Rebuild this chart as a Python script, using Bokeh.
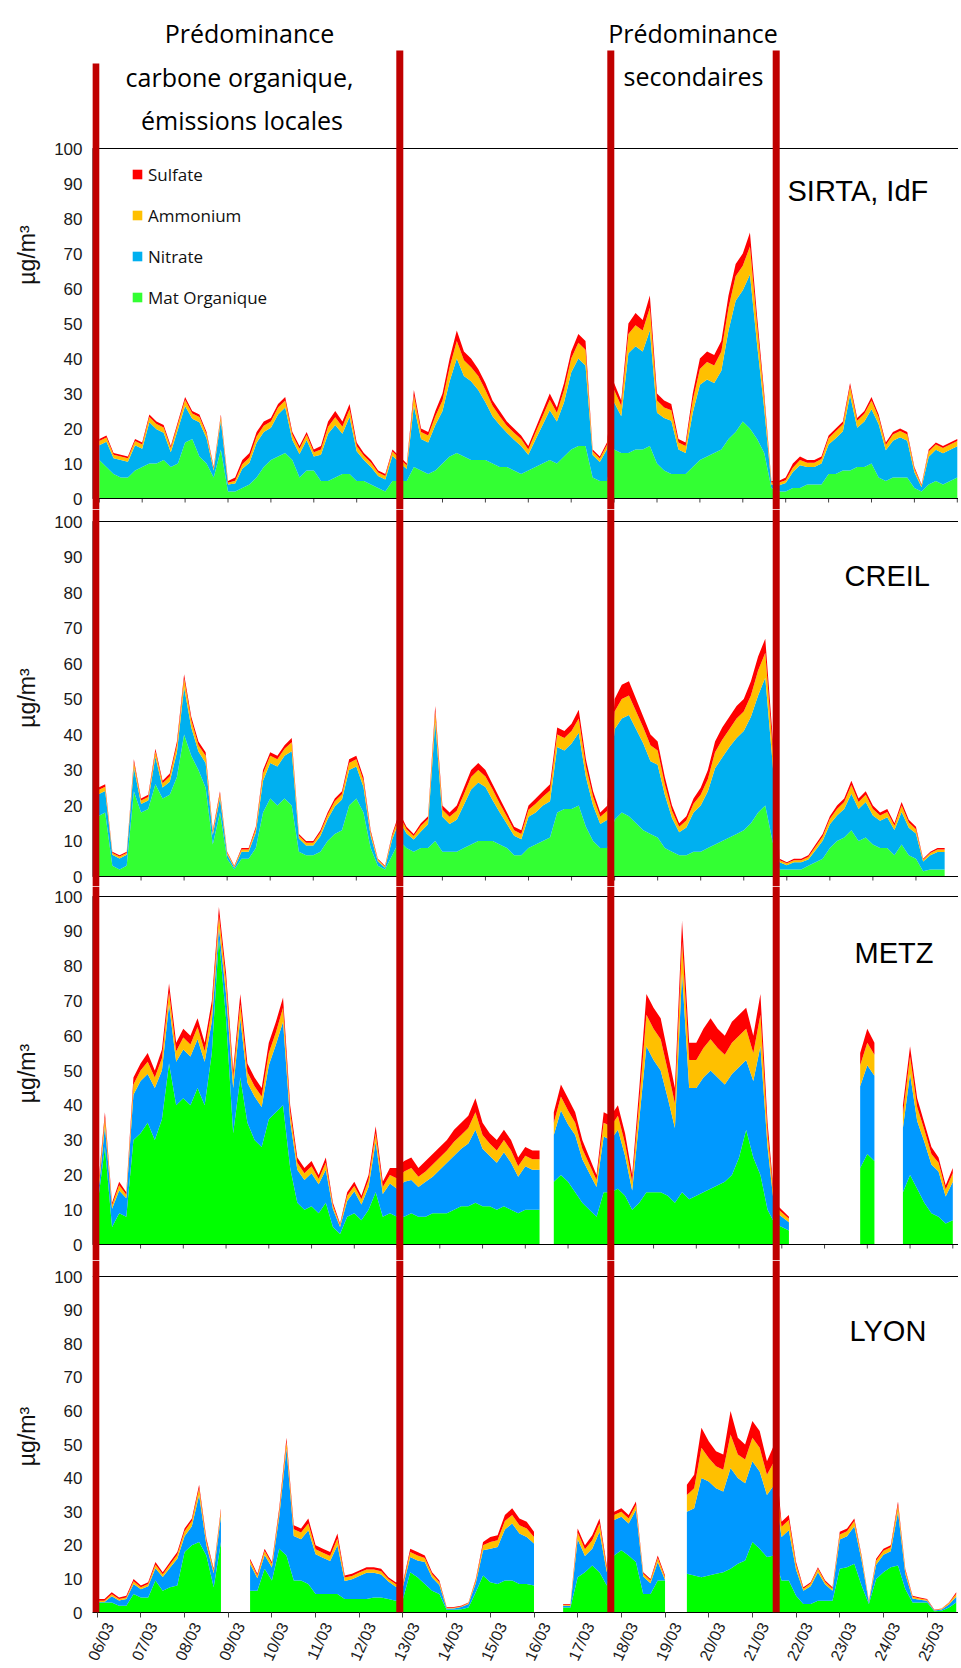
import math
import numpy as np
import pandas as pd
from bokeh.plotting import figure
from bokeh.layouts import column
from bokeh.models import (Range1d, BoxAnnotation, Span, Label, Legend, LegendItem,
                          FixedTicker, DatetimeTickFormatter, ColumnDataSource)
from bokeh.embed import file_html
from bokeh.resources import INLINE

nan = float("nan")

# ---------------------------------------------------------------------------
# DATA  (µg/m3, one value every 4 hours starting 06/03/2014 00:00)
# ---------------------------------------------------------------------------
species = ["Mat Organique", "Nitrate", "Ammonium", "Sulfate"]
legend_order = ["Sulfate", "Ammonium", "Nitrate", "Mat Organique"]

sirta_org = [
    11, 9, 7, 6, 6, 8,
    9, 10, 10, 11, 9, 10,
    16, 17, 12, 10, 6, 14,
    2, 2, 3, 4, 6, 9,
    11, 12, 13, 11, 6, 8,
    8, 5, 5, 6, 7, 7,
    5, 5, 4, 3, 2, 5,
    5, 5, 9, 8, 7, 8,
    10, 12, 13, 12, 11, 11,
    11, 10, 9, 9, 8, 7,
    8, 9, 10, 11, 10, 12,
    14, 15, 15, 6, 5, 5,
    14, 13, 13, 14, 14, 15,
    10, 8, 7, 7, 7, 9,
    11, 12, 13, 14, 17, 19,
    22, 20, 17, 13, 3, 2,
    2, 3, 3, 4, 4, 4,
    7, 7, 8, 8, 9, 9,
    10, 6, 5, 6, 6, 6,
    3, 2, 4, 5, 4, 5,
    6]
sirta_nit = [
    4.2, 7.2, 4.5, 5.0, 4.5, 7.2,
    5.2, 11.8, 9.8, 7.8, 4.2, 9.8,
    10.4, 5.8, 9.8, 7.2, 2.0, 8.2,
    2.0, 2.3, 5.5, 6.2, 9.9, 10.0,
    9.2, 12.0, 13.0, 5.7, 6.7, 8.7,
    4.0, 7.5, 13.5, 15.0, 11.5, 16.3,
    8.5, 6.0, 5.0, 3.4, 3.4, 7.2,
    5.2, 3.4, 17.5, 9.0, 9.0, 13.0,
    15.0, 21.5, 27.0, 23.0, 22.5, 20.0,
    16.5, 13.5, 12.0, 9.8, 8.8, 8.0,
    4.5, 7.8, 11.0, 14.2, 12.0, 15.5,
    22.0, 25.0, 23.0, 6.4, 5.4, 9.1,
    13.5, 10.5, 28.5, 29.5, 28.0, 33.0,
    14.5, 15.0, 15.2, 7.0, 6.0, 15.5,
    21.5, 22.0, 20.0, 22.5, 31.0, 37.5,
    37.5, 44.0, 27.0, 12.5, 1.0, 1.7,
    2.4, 4.6, 6.5, 5.0, 5.0, 6.0,
    8.4, 10.2, 11.2, 21.5, 11.2, 13.0,
    15.5, 15.2, 8.8, 10.5, 11.5, 10.5,
    4.5, 1.2, 7.9, 8.9, 8.9, 8.9,
    8.9]
sirta_amm = [
    1.2, 1.2, 1.0, 1.0, 1.0, 1.2,
    1.2, 1.5, 1.5, 1.5, 1.2, 1.5,
    1.8, 1.5, 1.5, 1.2, 0.6, 1.2,
    0.5, 0.8, 1.3, 1.5, 1.8, 1.8,
    1.8, 2.0, 2.0, 1.5, 1.5, 1.5,
    1.2, 1.5, 2.0, 2.2, 2.0, 2.2,
    1.5, 1.2, 1.2, 1.0, 1.0, 1.2,
    1.2, 1.0, 3.0, 2.0, 2.0, 2.5,
    3.0, 4.0, 5.0, 4.5, 4.0, 4.0,
    3.5, 3.0, 2.5, 2.0, 2.0, 2.0,
    1.5, 2.0, 2.5, 3.0, 2.5, 3.5,
    4.0, 4.5, 4.5, 1.0, 1.0, 1.2,
    3.5, 3.0, 5.5, 6.0, 6.0, 6.5,
    3.5, 3.0, 3.0, 2.0, 2.0, 3.5,
    4.5, 5.0, 5.0, 5.5, 6.5, 7.0,
    7.0, 8.0, 5.5, 3.0, 0.6, 0.8,
    0.8, 1.2, 1.5, 1.2, 1.2, 1.3,
    1.8, 2.0, 2.0, 2.5, 2.0, 2.2,
    2.5, 2.0, 1.5, 1.8, 1.8, 1.8,
    1.0, 0.5, 1.5, 1.5, 1.5, 1.5,
    1.5]
sirta_sul = [
    0.6, 0.6, 0.5, 0.5, 0.5, 0.6,
    0.6, 0.7, 0.7, 0.7, 0.6, 0.7,
    0.8, 0.7, 0.7, 0.6, 0.4, 0.6,
    0.5, 0.9, 1.2, 1.3, 1.3, 1.2,
    1.0, 1.0, 1.0, 0.8, 0.8, 0.8,
    0.8, 1.0, 1.5, 1.8, 1.5, 1.5,
    1.0, 0.8, 0.8, 0.6, 0.6, 0.6,
    0.6, 0.6, 1.5, 1.0, 1.0, 1.5,
    2.0, 2.5, 3.0, 2.5, 2.5, 2.0,
    2.0, 1.5, 1.5, 1.2, 1.2, 1.0,
    1.0, 1.2, 1.5, 1.8, 1.5, 2.0,
    2.0, 2.5, 2.5, 0.6, 0.6, 0.7,
    2.0, 1.5, 3.0, 3.5, 3.0, 3.5,
    2.0, 2.0, 1.8, 1.0, 1.0, 2.0,
    3.0, 3.0, 3.0, 3.0, 3.5, 3.5,
    3.5, 4.0, 2.5, 1.5, 0.4, 0.5,
    0.8, 1.2, 1.0, 0.8, 0.8, 0.7,
    0.8, 0.8, 0.8, 1.0, 0.8, 0.8,
    1.0, 0.8, 0.7, 0.7, 0.7, 0.7,
    0.5, 0.3, 0.6, 0.6, 0.6, 0.6,
    0.6]

creil_org = [
    17, 18, 3, 2, 3, 24,
    18, 19, 26, 22, 23, 28,
    40, 34, 30, 25, 9, 18,
    5, 2, 5, 5, 8, 18,
    22, 20, 22, 20, 7, 6,
    6, 7, 10, 12, 13, 20,
    22, 18, 8, 3, 2, 6,
    10, 8, 7, 8, 8, 10,
    7, 7, 7, 8, 9, 10,
    10, 10, 9, 8, 6, 6,
    8, 9, 10, 11, 18, 19,
    19, 20, 14, 10, 8, 8,
    16, 18, 17, 15, 13, 12,
    11, 8, 7, 6, 6, 7,
    7, 8, 9, 10, 11, 12,
    13, 15, 18, 20, 10, 2,
    2, 2, 2, 3, 4, 5,
    8, 10, 11, 13, 10, 11,
    9, 8, 8, 6, 9, 6,
    5, 1.5, 2, 2, 2]
creil_nit = [
    6.1, 6.1, 3.1, 3.1, 3.1, 6.7,
    2.4, 2.4, 7.7, 3.1, 3.7, 7.0,
    13.3, 8.0, 5.2, 7.0, 2.7, 4.1,
    1.2, 0.5, 2.0, 2.0, 4.4, 9.0,
    10.0, 11.0, 12.0, 15.3, 3.7, 2.7,
    2.7, 4.4, 6.1, 7.7, 8.7, 10.0,
    9.0, 7.2, 3.4, 1.3, 0.5, 4.4,
    5.7, 4.1, 3.4, 4.7, 6.7, 33.5,
    9.8, 7.8, 9.0, 12.2, 15.5, 16.5,
    15.2, 11.5, 9.0, 6.8, 5.5, 4.5,
    8.8, 9.0, 10.0, 10.2, 18.5, 16.5,
    18.5, 20.5, 14.0, 10.0, 6.8, 8.0,
    25.5, 26.5, 28.5, 26.5, 24.5, 20.5,
    20.5, 15.0, 9.5, 6.5, 7.8, 11.0,
    13.0, 16.0, 21.5, 23.5, 25.5, 27.0,
    28.0, 30.0, 33.0, 36.0, 22.5, 2.0,
    1.2, 2.0, 2.0, 1.8, 3.4, 5.1,
    6.7, 7.2, 8.0, 10.3, 9.0, 10.0,
    8.2, 7.7, 8.7, 7.1, 9.2, 7.7,
    7.1, 2.7, 4.0, 4.9, 4.9]
creil_amm = [
    1.2, 1.2, 0.5, 0.5, 0.5, 1.5,
    1.0, 1.0, 1.5, 1.2, 1.5, 2.0,
    2.5, 2.0, 1.8, 2.0, 0.8, 1.2,
    0.5, 0.3, 0.6, 0.6, 1.0, 2.0,
    2.0, 2.0, 2.0, 2.5, 0.8, 0.8,
    0.8, 1.0, 1.2, 1.5, 1.5, 2.0,
    2.0, 1.8, 1.0, 0.4, 0.3, 1.0,
    1.5, 1.2, 1.0, 1.5, 1.5, 3.0,
    2.0, 2.0, 2.5, 3.0, 3.5, 3.5,
    3.0, 3.0, 2.5, 2.0, 1.5, 1.5,
    2.0, 2.5, 2.5, 3.0, 3.5, 3.5,
    3.5, 4.0, 3.0, 2.5, 2.0, 2.5,
    5.0, 5.5, 5.5, 5.0, 4.5, 4.5,
    4.0, 3.0, 2.0, 1.5, 2.0, 2.5,
    3.0, 3.5, 4.5, 5.0, 5.0, 5.5,
    5.5, 6.0, 7.0, 7.0, 4.5, 0.6,
    0.5, 0.6, 0.6, 0.7, 1.0, 1.2,
    1.5, 1.8, 2.0, 2.5, 2.0, 2.0,
    1.8, 1.5, 1.5, 1.2, 1.8, 1.5,
    1.2, 0.5, 0.6, 0.7, 0.7]
creil_sul = [
    0.7, 0.7, 0.4, 0.4, 0.4, 0.8,
    0.6, 0.6, 0.8, 0.7, 0.8, 1.0,
    1.2, 1.0, 1.0, 1.0, 0.5, 0.7,
    0.3, 0.2, 0.4, 0.4, 0.6, 1.0,
    1.0, 1.0, 1.0, 1.2, 0.5, 0.5,
    0.5, 0.6, 0.7, 0.8, 0.8, 1.0,
    1.0, 1.0, 0.6, 0.3, 0.2, 0.6,
    0.8, 0.7, 0.6, 0.8, 0.8, 1.5,
    1.2, 1.2, 1.5, 1.8, 2.0, 2.0,
    1.8, 1.5, 1.5, 1.2, 1.0, 1.0,
    1.2, 1.5, 1.5, 1.8, 2.0, 2.0,
    2.0, 2.5, 2.0, 1.5, 1.2, 1.5,
    3.5, 4.0, 4.0, 3.5, 3.0, 3.0,
    2.5, 2.0, 1.5, 1.0, 1.2, 1.5,
    2.0, 2.5, 3.0, 3.5, 3.5, 3.5,
    3.5, 4.0, 4.0, 4.0, 3.0, 0.4,
    0.3, 0.4, 0.4, 0.5, 0.6, 0.7,
    0.8, 1.0, 1.0, 1.2, 1.0, 1.0,
    1.0, 0.8, 0.8, 0.7, 1.0, 0.8,
    0.7, 0.3, 0.4, 0.4, 0.4]

metz_org = [
    12, 28, 5, 9, 8, 30,
    32, 35, 30, 36, 52, 40,
    42, 40, 45, 40, 55, 88,
    65, 32, 48, 35, 30, 28,
    36, 38, 40, 22, 12, 10,
    11, 9, 12, 5, 3, 8,
    9, 7, 10, 15, 8, 9,
    8, 8, 9, 8, 8, 9,
    9, 9, 10, 11, 11, 12,
    11, 11, 10, 11, 10, 9,
    10, 10, 10, nan, 18, 20,
    18, 15, 12, 10, 8, 15,
    15, 16, 14, 10, 12, 15,
    15, 15, 14, 12, 15, 13,
    14, 15, 16, 17, 18, 20,
    25, 33, 25, 20, 10, 6,
    5, 4, nan, nan, nan, nan,
    nan, nan, nan, nan, nan, 22,
    26, 24, nan, nan, nan, 15,
    20, 16, 12, 9, 8, 6,
    7]
metz_nit = [
    1.5, 6.0, 5.3, 6.5, 5.3, 13.0,
    15.0, 14.0, 15.0, 14.0, 17.0, 12.5,
    14.0, 14.0, 14.0, 12.5, 9.0, 3.0,
    7.0, 13.0, 17.0, 11.5, 12.5, 11.5,
    15.5, 19.5, 24.0, 13.5, 9.5, 8.5,
    9.5, 8.3, 9.5, 5.2, 2.0, 4.5,
    6.3, 4.5, 6.5, 14.5, 6.5, 8.5,
    8.0, 10.0, 9.5, 8.5, 10.0, 10.5,
    12.5, 14.5, 15.5, 16.5, 18.0, 21.0,
    16.5, 14.5, 13.5, 15.5, 13.5, 10.5,
    12.5, 11.5, 11.5, nan, 13.5, 18.5,
    16.5, 16.5, 12.5, 10.5, 8.5, 16.0,
    15.0, 17.0, 11.5, 5.5, 24.0, 42.0,
    38.0, 35.0, 28.0, 21.5, 63.0, 32.0,
    31.0, 33.0, 34.0, 31.0, 28.0, 29.0,
    26.0, 20.0, 22.0, 37.0, 18.0, 3.5,
    3.0, 2.4, nan, nan, nan, nan,
    nan, nan, nan, nan, nan, 23.5,
    25.5, 24.5, nan, nan, nan, 18.5,
    29.0, 19.5, 17.5, 14.0, 13.0, 7.8,
    11.0]
metz_amm = [
    1.5, 2.5, 1.0, 1.5, 1.0, 3.0,
    3.0, 3.5, 3.0, 3.5, 3.5, 3.0,
    3.5, 3.5, 3.5, 3.0, 3.5, 3.5,
    3.5, 3.0, 4.0, 3.0, 3.0, 3.0,
    3.5, 3.5, 4.0, 2.5, 2.0, 2.0,
    2.0, 1.5, 2.0, 1.0, 0.6, 1.5,
    1.5, 1.5, 2.0, 2.5, 2.0, 2.5,
    3.0, 3.0, 3.5, 3.0, 3.0, 3.5,
    3.5, 3.5, 4.0, 4.0, 4.5, 5.0,
    4.0, 3.5, 3.5, 3.5, 3.5, 3.0,
    3.0, 3.0, 3.0, nan, 3.5, 4.0,
    4.0, 3.5, 3.0, 2.5, 2.0, 4.0,
    4.0, 4.0, 3.5, 2.5, 5.0, 9.0,
    9.0, 9.0, 8.0, 7.0, 9.0, 8.0,
    8.0, 8.5, 9.0, 8.5, 8.5, 9.0,
    9.0, 9.0, 8.0, 9.0, 4.0, 1.5,
    1.2, 1.0, nan, nan, nan, nan,
    nan, nan, nan, nan, nan, 6.0,
    6.5, 6.0, nan, nan, nan, 4.0,
    5.0, 4.0, 3.5, 3.0, 2.5, 2.0,
    2.5]
metz_sul = [
    1.0, 1.5, 0.7, 1.0, 0.7, 2.0,
    2.0, 2.5, 2.0, 2.5, 2.5, 2.5,
    2.5, 2.5, 2.5, 2.5, 2.5, 2.5,
    2.5, 2.0, 3.0, 2.5, 2.5, 2.5,
    3.0, 3.0, 3.0, 2.0, 1.5, 1.5,
    1.5, 1.2, 1.5, 0.8, 0.4, 1.0,
    1.2, 1.0, 1.5, 2.0, 1.5, 2.0,
    3.0, 3.0, 3.0, 2.5, 3.0, 3.0,
    3.0, 3.0, 3.5, 3.5, 3.5, 4.0,
    3.5, 3.0, 3.0, 3.0, 3.0, 2.5,
    2.5, 2.5, 2.5, nan, 3.0, 3.5,
    3.5, 3.0, 2.5, 2.0, 1.5, 3.0,
    3.0, 3.0, 3.0, 2.0, 4.0, 6.0,
    6.0, 6.0, 5.0, 4.5, 6.0, 5.0,
    5.0, 5.5, 6.0, 5.5, 5.5, 6.0,
    6.0, 6.0, 5.0, 6.0, 3.0, 1.0,
    0.8, 0.6, nan, nan, nan, nan,
    nan, nan, nan, nan, nan, 3.5,
    4.0, 3.5, nan, nan, nan, 2.5,
    3.0, 2.5, 2.0, 2.0, 1.5, 1.2,
    1.5]

lyon_org = [
    3, 3, 3, 2, 2, 5.5,
    4.5, 4.5, 9.5, 6.5, 7.5, 8,
    18, 20, 21, 17, 7.5, 21,
    nan, nan, nan, 6.5, 6.5, 13,
    9.5, 19, 17, 9.5, 9.5, 8.5,
    5.5, 5.5, 5.5, 5.5, 4, 4,
    4, 4, 4.5, 4.5, 4, 3.5,
    4, 12, 10.5, 8.5, 6.5, 5.5,
    0.8, 0.8, 1, 1.5, 6, 11,
    9, 8.5, 9.5, 9.5, 8.5, 8.5,
    8, nan, nan, nan, 1.5, 1.5,
    10.5, 12, 14, 12, 8, 17,
    18.5, 17, 15, 5.5, 5.5, 9.5,
    9.5, nan, nan, 11.5, 11, 10.5,
    11, 11.5, 12, 13, 14.5, 15.5,
    21, 19, 16.5, 17, 9.5, 9.5,
    5, 2.5, 2.5, 3.5, 3.5, 3.5,
    13, 13.5, 14.5, 8, 2.5, 10,
    12, 13.5, 14, 7, 3, 3,
    3, 0.4, 0.5, 1.5, 3]
lyon_nit = [
    0.1, 0.1, 1.8, 1.6, 2.0, 3.0,
    2.4, 3.3, 3.7, 4.1, 5.8, 8.0,
    4.7, 5.7, 14.0, 3.0, 4.2, 7.7,
    nan, nan, nan, 7.9, 3.7, 4.1,
    3.9, 9.5, 31.8, 13.3, 12.3, 16.0,
    11.8, 10.8, 9.8, 14.5, 5.4, 5.9,
    6.9, 7.8, 7.3, 6.8, 5.2, 4.2,
    3.7, 4.5, 5.0, 6.5, 3.9, 2.7,
    0.4, 0.4, 0.6, 1.0, 2.7, 7.5,
    10.0, 11.0, 15.2, 17.0, 15.0, 14.0,
    12.5, nan, nan, nan, 0.5, 0.5,
    11.3, 4.8, 5.0, 12.0, 4.0, 10.5,
    10.0, 9.5, 15.5, 5.2, 3.2, 5.5,
    0.2, nan, nan, 18.5, 20.0, 29.5,
    28.0, 25.5, 24.0, 30.0, 25.5, 23.0,
    24.0, 23.0, 18.5, 21.0, 13.0, 15.0,
    7.7, 4.0, 5.3, 8.5, 4.8, 3.0,
    8.7, 9.2, 11.2, 7.5, 0.5, 4.2,
    5.2, 4.7, 16.0, 4.5, 1.2, 0.8,
    0.5, 0.2, 0.4, 0.9, 1.7]
lyon_amm = [
    0.4, 0.4, 0.6, 0.4, 0.5, 0.8,
    0.6, 0.7, 1.0, 0.8, 1.0, 1.2,
    1.5, 1.5, 2.0, 1.2, 0.8, 1.5,
    nan, nan, nan, 1.0, 0.8, 1.2,
    1.0, 1.5, 2.0, 2.0, 2.0, 2.0,
    1.5, 1.5, 1.5, 2.0, 1.0, 1.0,
    1.0, 1.0, 1.0, 1.0, 0.8, 0.8,
    0.8, 1.5, 1.5, 1.2, 1.0, 0.8,
    0.2, 0.2, 0.2, 0.3, 0.8, 1.5,
    2.0, 2.0, 2.5, 2.5, 2.5, 2.5,
    2.0, nan, nan, nan, 0.3, 0.3,
    2.0, 2.0, 2.5, 2.5, 1.2, 1.5,
    1.5, 1.5, 1.5, 0.8, 0.8, 1.2,
    0.8, nan, nan, 5.0, 6.0, 9.0,
    7.0, 6.5, 6.5, 10.0, 7.0, 7.0,
    7.0, 7.0, 6.0, 7.0, 3.0, 3.0,
    1.5, 0.6, 0.8, 1.0, 0.8, 0.6,
    1.5, 1.5, 1.5, 1.0, 0.3, 1.2,
    1.2, 1.2, 2.0, 1.0, 0.5, 0.4,
    0.3, 0.1, 0.2, 0.4, 0.8]
lyon_sul = [
    0.5, 0.5, 0.6, 0.5, 0.5, 0.7,
    0.5, 0.5, 0.8, 0.6, 0.7, 0.8,
    0.8, 0.8, 1.0, 0.8, 0.5, 0.8,
    nan, nan, nan, 0.6, 0.5, 0.7,
    0.6, 1.0, 1.2, 1.2, 1.2, 1.5,
    1.2, 1.2, 1.2, 1.5, 0.6, 0.6,
    0.6, 0.7, 0.7, 0.7, 0.5, 0.5,
    0.5, 1.0, 1.0, 0.8, 0.6, 0.5,
    0.2, 0.2, 0.2, 0.2, 0.5, 1.0,
    1.5, 1.5, 1.8, 2.0, 2.0, 2.0,
    1.5, nan, nan, nan, 0.2, 0.2,
    1.2, 1.2, 1.5, 1.5, 0.8, 1.0,
    1.0, 1.0, 1.0, 0.5, 0.5, 0.8,
    0.5, nan, nan, 3.0, 4.0, 6.0,
    5.0, 4.5, 4.5, 7.0, 5.0, 4.5,
    5.0, 5.0, 4.0, 5.0, 1.5, 1.5,
    0.8, 0.4, 0.4, 0.5, 0.4, 0.4,
    0.8, 0.8, 0.8, 0.5, 0.2, 0.6,
    0.6, 0.6, 1.0, 0.5, 0.3, 0.3,
    0.2, 0.1, 0.1, 0.2, 0.5]

phase_titles_left = ["Prédominance", "carbone organique,", "émissions locales"]
phase_titles_right = ["Prédominance", "secondaires"]

# ---------------------------------------------------------------------------
# LAYOUT / STYLE  (page pixel positions)
# ---------------------------------------------------------------------------
T0 = pd.Timestamp("2014-03-06 00:00")
STEP_H = 4
MS_DAY = 86400000.0
T0_MS = T0.value / 1e6

PAGE = 0
FRAME_L, FRAME_R = 92, 958
RED_X = [95.3, 399.3, 610.3, 775.7]
RED_TOP = [63, 50, 50, 50]
RED_W = 7
RED = "#C00000"
NUM_FONT = "Liberation Sans"
TXT_FONT = "Open Sans"

COL_A = ["#33FF33", "#00B0F0", "#FFC000", "#FF0000"]
COL_B = ["#00FF00", "#0099FF", "#FFC000", "#FF0000"]

panels = [
    dict(name="SIRTA, IdF", data=(sirta_org, sirta_nit, sirta_amm, sirta_sul), colors=COL_A,
         frame=(0, 509), top100=148, zero=498, day0=98.8, ppd=42.9, lab=(787, 190)),
    dict(name="CREIL", data=(creil_org, creil_nit, creil_amm, creil_sul), colors=COL_A,
         frame=(509, 886), top100=521, zero=876, day0=97.5, ppd=43.05, lab=(844, 575)),
    dict(name="METZ", data=(metz_org, metz_nit, metz_amm, metz_sul), colors=COL_B,
         frame=(886, 1260), top100=896, zero=1244, day0=97.3, ppd=42.75, lab=(854, 952)),
    dict(name="LYON", data=(lyon_org, lyon_nit, lyon_amm, lyon_sul), colors=COL_B,
         frame=(1260, 1612), top100=1276, zero=1612, day0=96.7, ppd=43.68, lab=(849, 1330)),
]


def blocks(arrs):
    ok = np.all(~np.isnan(np.vstack(arrs)), axis=0)
    runs, start = [], None
    for i, v in enumerate(ok):
        if v and start is None:
            start = i
        if not v and start is not None:
            runs.append((start, i))
            start = None
    if start is not None:
        runs.append((start, len(ok)))
    return runs


figs = []
for k, cfg in enumerate(panels):
    last = k == len(panels) - 1
    ft, fb = cfg["frame"]
    scale = (cfg["zero"] - cfg["top100"]) / 100.0
    ystart = -(fb - cfg["zero"]) / scale
    yend = 100 + (cfg["top100"] - ft) / scale
    ms_px = MS_DAY / cfg["ppd"]
    xstart = T0_MS + (FRAME_L - cfg["day0"]) * ms_px
    xend = T0_MS + (FRAME_R - cfg["day0"]) * ms_px

    def px_x(px, xstart=xstart, ms_px=ms_px):
        return xstart + (px - FRAME_L) * ms_px

    def px_y(py, cfg=cfg, scale=scale):
        return (cfg["zero"] - py) / scale

    p = figure(frame_width=FRAME_R - FRAME_L, frame_height=fb - ft,
               x_range=Range1d(xstart, xend), y_range=Range1d(ystart, yend),
               x_axis_type="datetime", x_axis_location="below" if last else None,
               toolbar_location=None, output_backend="svg",
               min_border_left=FRAME_L - PAGE, min_border_right=0,
               min_border_top=0, min_border_bottom=0)
    p.grid.visible = False
    p.outline_line_color = None
    p.background_fill_color = "white"
    p.border_fill_color = "white"

    arrs = [np.array(a, dtype=float) for a in cfg["data"]]
    n = len(arrs[0])
    t = [T0 + pd.Timedelta(hours=STEP_H * i) for i in range(n)]
    first_rs = None
    for (i0, i1) in blocks(arrs):
        src = ColumnDataSource(dict(x=t[i0:i1], g=arrs[0][i0:i1], n=arrs[1][i0:i1],
                                    a=arrs[2][i0:i1], s=arrs[3][i0:i1]))
        rs = p.varea_stack(stackers=["g", "n", "a", "s"], x="x", color=cfg["colors"], source=src)
        if first_rs is None:
            first_rs = rs

    yax = p.yaxis[0]
    yax.ticker = FixedTicker(ticks=list(range(0, 101, 10)))
    yax.bounds = (0, 100)
    yax.major_tick_out = 0
    yax.major_tick_in = 0
    yax.minor_tick_out = 0
    yax.minor_tick_in = 0
    yax.axis_line_color = None
    yax.major_label_text_font = NUM_FONT
    yax.major_label_text_font_size = "17px"
    yax.major_label_text_color = "#1a1a1a"
    yax.major_label_standoff = 10
    yax.axis_label = "µg/m³"
    yax.axis_label_text_font = NUM_FONT
    yax.axis_label_text_font_size = "23px"
    yax.axis_label_text_font_style = "normal"
    yax.axis_label_text_color = "#111111"
    yax.axis_label_standoff = 11

    day_ms = [T0_MS + d * MS_DAY for d in range(21)]
    if not last:
        p.add_layout(BoxAnnotation(bottom=0, top=100, fill_alpha=0, line_color="black",
                                   line_width=1, line_alpha=1))
        tl = 4.0 / scale
        p.segment(x0=day_ms, y0=[0] * len(day_ms), x1=day_ms, y1=[-tl] * len(day_ms),
                  line_color="#444444", line_width=1)
    else:
        p.add_layout(Span(location=100, dimension="width", line_color="black", line_width=1))
        xax = p.xaxis[0]
        lab_shift = 0.28
        xax.ticker = FixedTicker(ticks=[m + lab_shift * MS_DAY for m in day_ms[:20]],
                                 minor_ticks=day_ms[:20])
        fmt = "%d/%m"
        xax.formatter = DatetimeTickFormatter(microseconds=fmt, milliseconds=fmt, seconds=fmt,
                                              minsec=fmt, minutes=fmt, hourmin=fmt, hours=fmt,
                                              days=fmt, months=fmt, years=fmt)
        xax.major_label_orientation = math.radians(65)
        xax.major_tick_out = 0
        xax.major_tick_in = 0
        xax.minor_tick_out = 5
        xax.minor_tick_in = 0
        xax.minor_tick_line_color = "#444444"
        xax.axis_line_color = "black"
        xax.major_label_text_font = NUM_FONT
        xax.major_label_text_font_size = "16px"
        xax.major_label_text_color = "#1a1a1a"
        xax.major_label_standoff = 6

    p.add_layout(Label(x=px_x(cfg["lab"][0]), y=px_y(cfg["lab"][1]), text=cfg["name"],
                       text_font=NUM_FONT, text_font_size="29px", text_color="black",
                       text_align="left", text_baseline="alphabetic"))

    for j, cx in enumerate(RED_X):
        top = px_y(RED_TOP[j]) if k == 0 else None
        p.add_layout(BoxAnnotation(left=px_x(cx - RED_W / 2), right=px_x(cx + RED_W / 2),
                                   top=top, fill_color=RED, fill_alpha=1,
                                   line_alpha=0, line_color=None))

    if k == 0:
        for txt, cx, by in zip(phase_titles_left, [249, 239, 241.5], [32.3, 76, 119]):
            p.add_layout(Label(x=px_x(cx), y=px_y(by), text=txt, text_font=TXT_FONT,
                               text_font_size="25px", text_color="black",
                               text_align="center", text_baseline="alphabetic"))
        for txt, cx, by in zip(phase_titles_right, [692.5, 693], [32.3, 75]):
            p.add_layout(Label(x=px_x(cx), y=px_y(by), text=txt, text_font=TXT_FONT,
                               text_font_size="25px", text_color="black",
                               text_align="center", text_baseline="alphabetic"))
        rmap = dict(zip(species, first_rs))
        items = [LegendItem(label=name, renderers=[rmap[name]]) for name in legend_order]
        leg = Legend(items=items, location=(131 - FRAME_L, fb - 308.5))
        leg.padding = 0
        leg.margin = 0
        leg.spacing = 18
        leg.glyph_width = 12
        leg.glyph_height = 12
        leg.label_height = 23
        leg.label_standoff = 5
        leg.label_text_font = TXT_FONT
        leg.label_text_font_size = "17px"
        leg.label_text_color = "#111111"
        leg.border_line_color = None
        leg.background_fill_alpha = 0
        p.add_layout(leg)

    figs.append(p)

layout = column(*figs, spacing=0)
open("out.html", "w").write(file_html(layout, INLINE))
